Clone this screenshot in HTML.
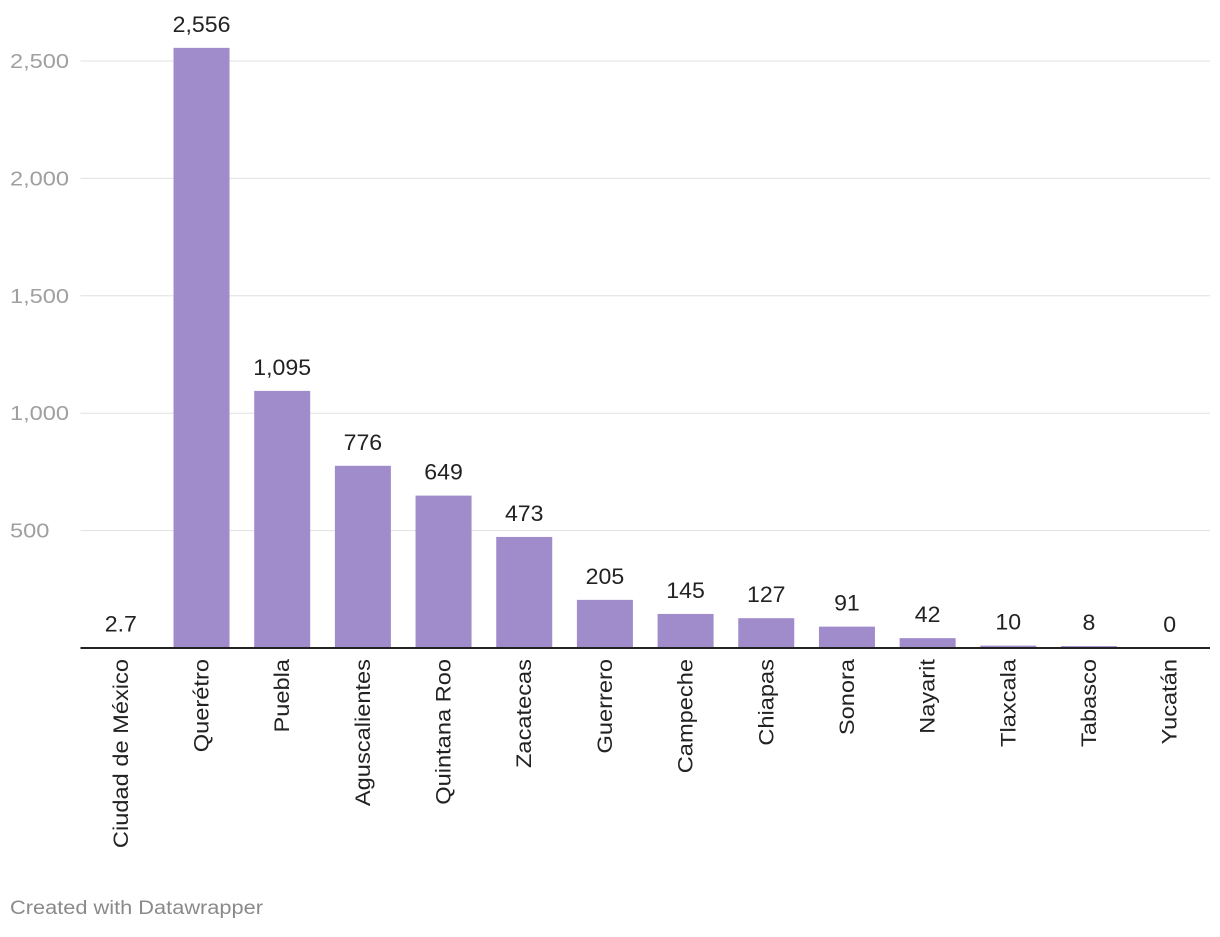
<!DOCTYPE html>
<html><head><meta charset="utf-8"><style>
body{margin:0;background:#fff;font-family:"Liberation Sans",sans-serif;}
</style></head><body>
<svg width="1220" height="932" id="c" xmlns="http://www.w3.org/2000/svg"></svg>
<script>
const categories=["Ciudad de México","Querétro","Puebla","Aguscalientes","Quintana Roo","Zacatecas","Guerrero","Campeche","Chiapas","Sonora","Nayarit","Tlaxcala","Tabasco","Yucatán"];
const values=[2.7,2556,1095,776,649,473,205,145,127,91,42,10,8,0];
const valueLabels=["2.7","2,556","1,095","776","649","473","205","145","127","91","42","10","8","0"];
const ticks=[500,1000,1500,2000,2500];
const tickLabels=["500","1,000","1,500","2,000","2,500"];
const svg=document.getElementById('c');
const NS="http://www.w3.org/2000/svg";
const x0=80.5,x1=1210,y0=648,yTop=61,vmax=2500;
const band=(x1-x0)/categories.length,bw=56;
const y=v=>y0-(v/vmax)*(y0-yTop);
const xc=i=>x0+band*(i+0.5);
function mk(t,a){const e=document.createElementNS(NS,t);for(const k in a)e.setAttribute(k,a[k]);svg.appendChild(e);return e;}
function stretch(e,f){const w=e.getComputedTextLength();e.setAttribute('textLength',w*f);e.setAttribute('lengthAdjust','spacingAndGlyphs');}
ticks.forEach((t,i)=>{
 const g=mk('line',{x1:x0,x2:x1,y1:y(t),y2:y(t),stroke:'#e0e0e0','stroke-width':1});
 
 
 const l=mk('text',{x:10,y:y(t)+7,'font-size':20,fill:'#a0a0a0'});
 l.textContent=tickLabels[i];
 
 
 stretch(l,1.18);
});
values.forEach((v,i)=>{
 const h=y0-y(v);
 const r=mk('rect',{x:xc(i)-bw/2,y:y(v),width:bw,height:Math.max(h,0),fill:'#a08bcb'});
 
 
 const t=mk('text',{x:xc(i),y:y(v)-16,'font-size':22,fill:'#222','text-anchor':'middle'});
 t.textContent=valueLabels[i];
 
 
 stretch(t,1.05);
 const c=mk('text',{x:0,y:0,'font-size':21,fill:'#222','text-anchor':'end',transform:`translate(${xc(i)+7},659) rotate(-90)`});
 c.textContent=categories[i];
 
 
 stretch(c,1.125);
});
const b=mk('line',{x1:x0,x2:x1,y1:y0,y2:y0,stroke:'#222','stroke-width':2});


const f=mk('text',{x:10,y:914,'font-size':19,fill:'#8a8a8a',textLength:253,lengthAdjust:'spacingAndGlyphs'});
f.textContent="Created with Datawrapper";


</script>
</body></html>
